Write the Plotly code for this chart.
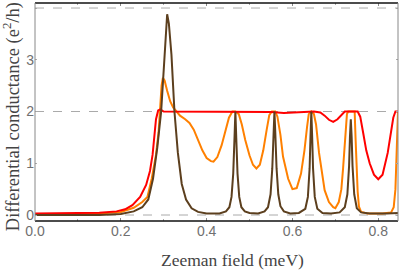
import plotly.graph_objects as go

# ---- data ----
brown_x = [0.0, 0.15, 0.20, 0.23, 0.25, 0.264, 0.275, 0.285, 0.294, 0.300, 0.305, 0.308, 0.312, 0.318, 0.325,
           0.333, 0.342, 0.352, 0.365, 0.38, 0.40, 0.43,
           0.445, 0.453, 0.458, 0.462, 0.465, 0.467, 0.469, 0.472, 0.476, 0.481, 0.489, 0.50, 0.52,
           0.535, 0.543, 0.549, 0.553, 0.556, 0.558, 0.560, 0.563, 0.567, 0.572, 0.58, 0.595, 0.615,
           0.63, 0.636, 0.640, 0.642, 0.644, 0.646, 0.648, 0.652, 0.658, 0.67, 0.69, 0.71,
           0.722, 0.728, 0.732, 0.734, 0.736, 0.738, 0.740, 0.744, 0.75, 0.76, 0.78, 0.82, 0.846]
brown_y = [0.0, 0.0, 0.02, 0.07, 0.15, 0.3, 0.7, 1.3, 2.0, 2.9, 3.6, 3.88, 3.7, 3.1, 2.0,
           1.2, 0.6, 0.3, 0.13, 0.06, 0.03, 0.03,
           0.07, 0.15, 0.35, 0.8, 1.5, 2.0, 1.5, 0.8, 0.35, 0.15, 0.07, 0.04, 0.03,
           0.07, 0.15, 0.4, 0.9, 1.6, 2.0, 1.6, 0.9, 0.4, 0.17, 0.07, 0.03, 0.04,
           0.12, 0.35, 0.9, 1.5, 2.0, 1.5, 0.9, 0.35, 0.12, 0.04, 0.03, 0.05,
           0.15, 0.4, 0.95, 1.5, 1.85, 1.5, 0.95, 0.4, 0.13, 0.05, 0.03, 0.03, 0.04]

orange_x = [0.0, 0.10, 0.15, 0.20, 0.23, 0.25, 0.262, 0.272, 0.282, 0.288, 0.292, 0.295, 0.298, 0.302,
            0.308, 0.315, 0.322, 0.329, 0.338, 0.350, 0.36, 0.37, 0.38, 0.39, 0.40, 0.41, 0.416,
            0.425, 0.435, 0.445, 0.452, 0.46, 0.467, 0.475, 0.482, 0.49, 0.50, 0.508, 0.516,
            0.524, 0.532, 0.54, 0.546, 0.552, 0.56, 0.565, 0.572, 0.578, 0.59, 0.60, 0.61,
            0.62, 0.628, 0.634, 0.638, 0.644, 0.650, 0.655, 0.662, 0.675, 0.685, 0.695, 0.70,
            0.708, 0.714, 0.718, 0.723, 0.727, 0.73, 0.745, 0.747, 0.749, 0.752, 0.755, 0.76,
            0.775, 0.81, 0.83, 0.836, 0.840, 0.843, 0.846]
orange_y = [0.01, 0.015, 0.03, 0.06, 0.14, 0.25, 0.35, 0.7, 1.16, 1.6, 2.1, 2.5, 2.65, 2.6,
            2.4, 2.2, 2.08, 2.0, 1.92, 1.85, 1.78, 1.65, 1.45, 1.25, 1.1, 1.04, 1.03,
            1.12, 1.35, 1.65, 1.88, 2.0, 2.0, 1.95, 1.75, 1.45, 1.15, 0.97, 0.9,
            0.97, 1.25, 1.65, 1.93, 2.0, 2.0, 1.9, 1.55, 1.13, 0.7, 0.5, 0.52,
            0.8, 1.25, 1.7, 1.95, 2.0, 1.95, 1.75, 1.2, 0.48, 0.25, 0.15, 0.13,
            0.25, 0.5, 0.9, 1.5, 1.95, 2.0, 2.0, 1.5, 0.93, 0.45, 0.16, 0.06,
            0.03, 0.03, 0.05, 0.15, 0.5, 1.3, 2.0]

red_x = [0.0, 0.10, 0.15, 0.19, 0.21, 0.227, 0.245, 0.259, 0.268, 0.274, 0.278, 0.282, 0.287, 0.292,
         0.30, 0.35, 0.45, 0.50, 0.55, 0.58, 0.60, 0.62, 0.65, 0.665, 0.675, 0.685, 0.695, 0.705,
         0.713, 0.722, 0.752, 0.758, 0.765, 0.772, 0.78, 0.79, 0.80, 0.81, 0.822, 0.83, 0.835,
         0.84, 0.846]
red_y = [0.03, 0.035, 0.045, 0.07, 0.11, 0.19, 0.35, 0.58, 0.85, 1.16, 1.55, 1.85, 2.02, 2.04,
         2.0, 2.0, 2.0, 2.0, 1.99, 1.97, 1.98, 1.99, 2.0, 1.98, 1.92, 1.84, 1.8, 1.85,
         1.93, 2.0, 2.0, 1.9, 1.58, 1.25, 1.0, 0.78, 0.69, 0.78, 1.2, 1.6, 1.88,
         2.0, 2.0]

x_ticks = [0.0, 0.2, 0.4, 0.6, 0.8]
x_ticklabels = ["0.0", "0.2", "0.4", "0.6", "0.8"]
y_ticks = [0, 1, 2, 3, 4]
grid_levels = [0, 2, 4]
x_title = "Zeeman field (meV)"
y_title = "Differential conductance (e<sup>2</sup>/h)"

fig = go.Figure()
fig.add_trace(go.Scatter(x=orange_x, y=orange_y, mode="lines",
                         line=dict(color="#FF8000", width=2), showlegend=False))
fig.add_trace(go.Scatter(x=red_x, y=red_y, mode="lines",
                         line=dict(color="#FF0000", width=2), showlegend=False))
fig.add_trace(go.Scatter(x=brown_x, y=brown_y, mode="lines",
                         line=dict(color="#5C3F1E", width=2), showlegend=False))

tickfont = dict(family="Liberation Sans, Arial, sans-serif", size=14, color="#707070")
serif = "Liberation Serif, Times New Roman, serif"

# dashed reference grid
for lv in grid_levels:
    fig.add_shape(type="line", xref="paper", x0=0, x1=1, yref="y", y0=lv, y1=lv,
                  line=dict(color="#aaaaaa", width=1, dash="dash"), layer="below")
# frame
fig.add_shape(type="line", xref="paper", yref="paper", x0=0, x1=1, y0=0, y1=0,
              line=dict(color="#111111", width=1.5))
fig.add_shape(type="line", xref="paper", yref="paper", x0=0, x1=1, y0=1, y1=1,
              line=dict(color="#111111", width=1.5))
fig.add_shape(type="line", xref="paper", yref="paper", x0=0, x1=0, y0=0, y1=1,
              line=dict(color="#888888", width=1))
fig.add_shape(type="line", xref="paper", yref="paper", x0=1, x1=1, y0=0, y1=1,
              line=dict(color="#888888", width=1))

# axis titles (positioned as in the reference)
fig.add_annotation(text=x_title, xref="paper", yref="paper", x=0.545, y=-0.18,
                   xanchor="center", yanchor="middle", showarrow=False,
                   font=dict(family=serif, size=17.5, color="#444444"))
fig.add_annotation(text=y_title, xref="paper", yref="paper", x=-0.064, y=0.48,
                   xanchor="center", yanchor="middle", showarrow=False, textangle=-90,
                   font=dict(family=serif, size=18.5, color="#444444"))

fig.update_layout(
    width=399, height=270,
    margin=dict(l=35, r=1, t=3, b=49),
    paper_bgcolor="white", plot_bgcolor="white",
    xaxis=dict(range=[0, 0.846], tickvals=x_ticks, ticktext=x_ticklabels,
               ticks="inside", ticklen=3, tickcolor="#888888",
               minor=dict(ticks="inside", ticklen=2, dtick=0.1, tickcolor="#aaaaaa", showgrid=False),
               showline=False, mirror="ticks",
               showgrid=False, zeroline=False, tickfont=tickfont, automargin=False),
    yaxis=dict(range=[-0.116, 4.097], tickvals=y_ticks,
               ticks="inside", ticklen=2, tickcolor="#aaaaaa", mirror="ticks",
               showline=False,
               showgrid=False, zeroline=False, tickfont=tickfont, automargin=False),
)

fig.write_html("out.html", config={"displayModeBar": False},
               post_script="document.body.style.margin='0';document.body.style.padding='0';")
